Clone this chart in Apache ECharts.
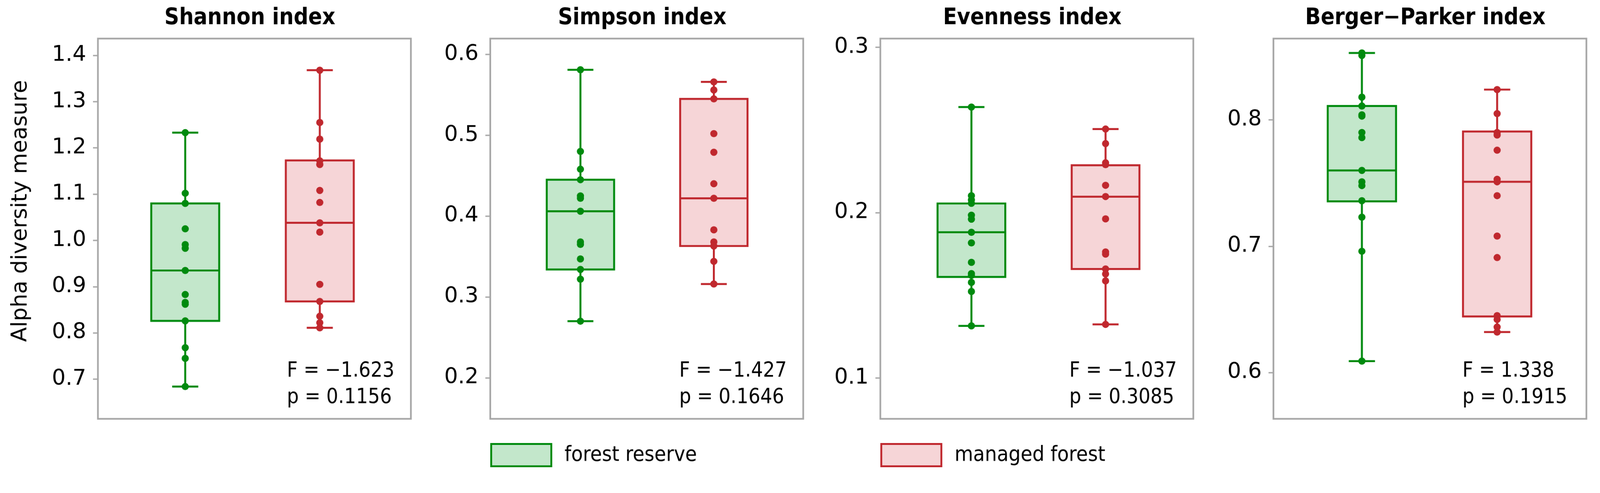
<!DOCTYPE html>
<html>
<head>
<meta charset="utf-8">
<script src="https://cdn.jsdelivr.net/npm/echarts@6/dist/echarts.min.js"></script>
<style>
  html, body { margin: 0; padding: 0; background: #ffffff; overflow: hidden; }
  #chart { width: 4233px; height: 1262px; transform-origin: 0 0; }
</style>
</head>
<body>
<div id="chart"></div>
<script>
// ---------------- data ----------------
const categories = ['forest reserve', 'managed forest'];
const titles = ['Shannon index', 'Simpson index', 'Evenness index', 'Berger\u2212Parker index'];
const yAxisName = 'Alpha diversity measure';

// individual points
const shannonReserve = [1.233, 1.102, 1.080, 1.025, 0.991, 0.983, 0.935, 0.883, 0.866, 0.862, 0.826, 0.768, 0.745, 0.684];
const shannonManaged = [1.368, 1.255, 1.219, 1.172, 1.164, 1.108, 1.082, 1.038, 1.018, 0.905, 0.868, 0.836, 0.822, 0.811];
const simpsonReserve = [0.581, 0.480, 0.458, 0.445, 0.425, 0.422, 0.406, 0.368, 0.365, 0.347, 0.334, 0.322, 0.270];
const simpsonManaged = [0.566, 0.556, 0.545, 0.502, 0.479, 0.440, 0.422, 0.383, 0.368, 0.363, 0.344, 0.316];
const evennessReserve = [0.2638, 0.2102, 0.2077, 0.2056, 0.1984, 0.1960, 0.1881, 0.1817, 0.1699, 0.1631, 0.1620, 0.1578, 0.1523, 0.1315];
const evennessManaged = [0.2505, 0.2417, 0.2301, 0.2290, 0.2165, 0.2097, 0.1962, 0.1762, 0.1749, 0.1659, 0.1629, 0.1587, 0.1324];
const bergerReserve = [0.853, 0.851, 0.818, 0.811, 0.804, 0.803, 0.790, 0.786, 0.760, 0.751, 0.748, 0.736, 0.723, 0.696, 0.609];
const bergerManaged = [0.824, 0.805, 0.790, 0.788, 0.776, 0.753, 0.751, 0.740, 0.708, 0.691, 0.645, 0.642, 0.636, 0.632];

// box statistics [min, Q1, median, Q3, max]
const shannonBoxReserve = [0.684, 0.826, 0.935, 1.080, 1.233];
const shannonBoxManaged = [0.811, 0.868, 1.038, 1.173, 1.368];
const simpsonBoxReserve = [0.270, 0.334, 0.406, 0.445, 0.581];
const simpsonBoxManaged = [0.316, 0.363, 0.422, 0.545, 0.566];
const evennessBoxReserve = [0.1315, 0.1611, 0.1881, 0.2055, 0.2638];
const evennessBoxManaged = [0.1324, 0.1659, 0.2096, 0.2286, 0.2505];
const bergerBoxReserve = [0.609, 0.7355, 0.760, 0.811, 0.853];
const bergerBoxManaged = [0.632, 0.6444, 0.751, 0.7908, 0.824];

// tick labels
const shannonTicks = [0.7, 0.8, 0.9, 1.0, 1.1, 1.2, 1.3, 1.4];
const simpsonTicks = [0.2, 0.3, 0.4, 0.5, 0.6];
const evennessTicks = [0.1, 0.2, 0.3];
const bergerTicks = [0.6, 0.7, 0.8];

// test statistics
const fTexts = ['F = \u22121.623', 'F = \u22121.427', 'F = \u22121.037', 'F = 1.338'];
const pTexts = ['p = 0.1156', 'p = 0.1646', 'p = 0.3085', 'p = 0.1915'];

// ---------------- layout / style ----------------
const W = 4233, H = 1262;
const panels = [
  { pts: [shannonReserve, shannonManaged], box: [shannonBoxReserve, shannonBoxManaged], ticks: shannonTicks, y: [0.6142, 1.4364], x: [0.351, 2.677], left: 259 },
  { pts: [simpsonReserve, simpsonManaged], box: [simpsonBoxReserve, simpsonBoxManaged], ticks: simpsonTicks, y: [0.1492, 0.6196], x: [0.324, 2.670], left: 1297 },
  { pts: [evennessReserve, evennessManaged], box: [evennessBoxReserve, evennessBoxManaged], ticks: evennessTicks, y: [0.0753, 0.3052], x: [0.321, 2.654], left: 2329 },
  { pts: [bergerReserve, bergerManaged], box: [bergerBoxReserve, bergerBoxManaged], ticks: bergerTicks, y: [0.5633, 0.8644], x: [0.346, 2.660], left: 3369 }
];
const GRID_TOP = 102, GRID_H = 1006, GRID_W = 828;
const STROKES = ['#008a0e', '#c0282e'];
const FILLS = ['#c3e7cb', '#f6d5d7'];
const FRAME = '#a6a6a6';
const BOX_HW = 0.2525, CAP_HW = 0.097;
const LW = 5.2;
const FONT = 'DejaVu Sans';
const FONT_C = 'DejaVu Sans Condensed';

// fit the fixed-size drawing into the actual viewport
(function fit() {
  const vw = document.documentElement.clientWidth || window.innerWidth;
  const vh = document.documentElement.clientHeight || window.innerHeight;
  const s = Math.min(vw / W, vh / H);
  if (Math.abs(s - 1) > 0.001) {
    document.getElementById('chart').style.transform = 'scale(' + s + ')';
  }
})();

function makeRender(stroke, fill) {
  return function (params, api) {
    const x = api.value(0);
    const vMin = api.value(1), q1 = api.value(2), med = api.value(3), q3 = api.value(4), vMax = api.value(5);
    const c = (xx, yy) => api.coord([xx, yy]);
    const top = c(x, vMax), bot = c(x, vMin), q3p = c(x, q3), q1p = c(x, q1);
    const a = c(x - BOX_HW, q3), b = c(x + BOX_HW, q1);
    const m1 = c(x - BOX_HW, med), m2 = c(x + BOX_HW, med);
    const cT1 = c(x - CAP_HW, vMax), cT2 = c(x + CAP_HW, vMax);
    const cB1 = c(x - CAP_HW, vMin), cB2 = c(x + CAP_HW, vMin);
    const ls = { stroke: stroke, lineWidth: LW };
    const L = (p, q) => ({ type: 'line', shape: { x1: p[0], y1: p[1], x2: q[0], y2: q[1] }, style: ls });
    return {
      type: 'group',
      children: [
        L(top, q3p), L(q1p, bot), L(cT1, cT2), L(cB1, cB2),
        { type: 'rect', shape: { x: a[0], y: a[1], width: b[0] - a[0], height: b[1] - a[1] },
          style: { fill: fill, stroke: stroke, lineWidth: LW } },
        L(m1, m2)
      ]
    };
  };
}

const grid = [], xAxis = [], yAxis = [], series = [], graphic = [];
panels.forEach((p, i) => {
  grid.push({ left: p.left, top: GRID_TOP, width: GRID_W, height: GRID_H, show: true,
    borderColor: FRAME, borderWidth: 4.5, backgroundColor: 'transparent', containLabel: false });
  xAxis.push({ gridIndex: i, type: 'value', min: p.x[0], max: p.x[1], show: false });
  yAxis.push({
    gridIndex: i, type: 'value', min: p.y[0], max: p.y[1],
    axisLine: { show: false },
    splitLine: { show: false },
    axisTick: { show: true, length: 13, customValues: p.ticks, lineStyle: { color: FRAME, width: 3.5 } },
    axisLabel: { show: true, customValues: p.ticks, margin: 31, fontSize: 57, fontFamily: FONT, color: '#000',
      formatter: v => Number(v).toFixed(1) }
  });
  [0, 1].forEach(g => {
    series.push({
      type: 'custom', name: categories[g], xAxisIndex: i, yAxisIndex: i, z: 2,
      renderItem: makeRender(STROKES[g], FILLS[g]),
      data: [[g + 1].concat(p.box[g])],
      silent: true
    });
  });
  [0, 1].forEach(g => {
    series.push({
      type: 'scatter', name: categories[g], xAxisIndex: i, yAxisIndex: i, z: 3,
      symbol: 'circle', symbolSize: 19,
      itemStyle: { color: STROKES[g], opacity: 1 },
      data: p.pts[g].map(v => [g + 1, v]),
      silent: true
    });
  });
  const cx = p.left + GRID_W / 2 - 12;
  graphic.push({ type: 'text', x: cx, y: 48, style: { text: titles[i], font: 'bold 60px "' + FONT_C + '"', fill: '#000', align: 'center', verticalAlign: 'middle' } });
  const tx = p.left + GRID_W - 328;
  graphic.push({ type: 'text', x: tx, y: 982, style: { text: fTexts[i], font: '55px "' + FONT_C + '"', fill: '#000', align: 'left', verticalAlign: 'middle' } });
  graphic.push({ type: 'text', x: tx, y: 1052, style: { text: pTexts[i], font: '55px "' + FONT_C + '"', fill: '#000', align: 'left', verticalAlign: 'middle' } });
});
graphic.push({ type: 'text', x: 55, y: 558, rotation: Math.PI / 2,
  style: { text: yAxisName, font: '57px "' + FONT + '"', fill: '#000', align: 'center', verticalAlign: 'middle' } });

const legendCommon = {
  orient: 'horizontal', top: 1172, padding: 0, itemWidth: 159, itemHeight: 59, selectedMode: false,
  textStyle: { fontSize: 56, fontFamily: FONT_C, color: '#000', padding: [0, 0, 0, 30] }
};
const legend = [0, 1].map(g => Object.assign({}, legendCommon, {
  left: g === 0 ? 1297 : 2329,
  data: [{ name: categories[g], icon: 'rect', itemStyle: { color: FILLS[g], borderColor: STROKES[g], borderWidth: 5 } }]
}));

const chart = echarts.init(document.getElementById('chart'), null, { renderer: 'canvas' });
chart.setOption({
  animation: false,
  backgroundColor: '#ffffff',
  grid, xAxis, yAxis, series, graphic, legend
});
</script>
</body>
</html>
